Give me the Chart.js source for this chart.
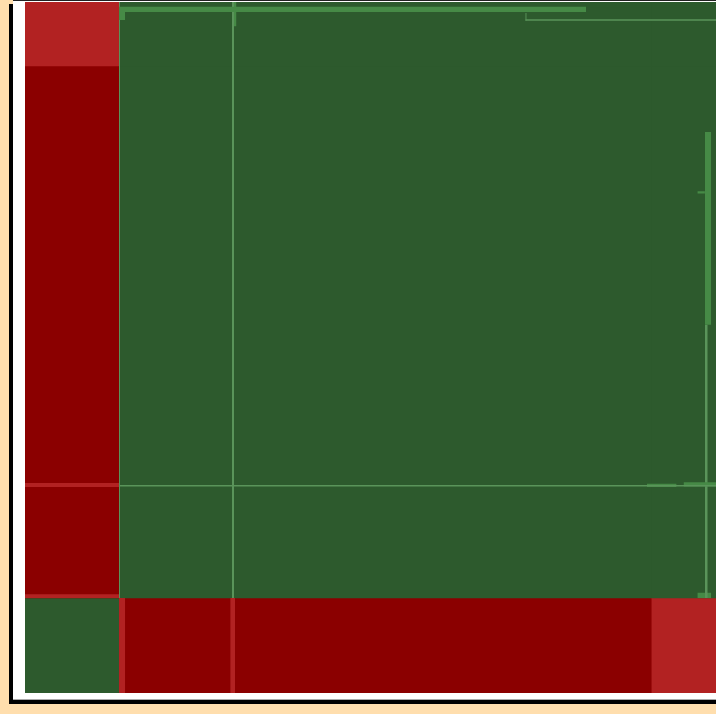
<!DOCTYPE html>
<html>
<head>
<meta charset="utf-8">
<script src="https://cdn.jsdelivr.net/npm/chart.js@4.4.1/dist/chart.umd.min.js"></script>
<style>
  html, body { margin: 0; padding: 0; background: #FFDEAD; overflow: hidden; }
  #frame {
    position: absolute; left: 13px; top: 0; width: 720px; height: 698px;
    background: #fff; border-top: 1px solid #222; border-bottom: 1px solid #aaa;
    box-shadow: -4px 4px 0 #000;
  }
  #holder { position: absolute; left: 25px; top: 2px; width: 691px; height: 691px; }
</style>
</head>
<body>
<div id="frame"></div>
<div id="holder"><canvas id="matrix"></canvas></div>
<script>
// category shares (percent of the whole), same order on both axes
const categories = ["A", "B", "C", "D"];
const shares = [13.6, 16.4, 60.6, 9.4];

// cell status, rows from the bottom: 1 = match, -1 = strong mismatch, -0.5 = mismatch
const status = [
  [ 1, -1, -1, -0.5],
  [-1,  1,  1,  1],
  [-1,  1,  1,  1],
  [-0.5, 1, 1,  1]
];
const statusColors = { "1": "#2d5a2d", "-1": "#8b0000", "-0.5": "#b22222" };

// thin residual cells [x0, x1, y0, y1, kind] in percent units
const slivers = [
  [0, 13.6, 29.8, 30.4, "red"],
  [0, 13.6, 13.75, 14.3, "red"],
  [13.6, 14.5, 0, 13.75, "red"],
  [29.7, 30.4, 0, 13.75, "red"],
  [13.6, 81.2, 98.55, 99.3, "green"],
  [13.6, 14.5, 97.4, 98.55, "green"],
  [29.95, 30.25, 13.75, 100, "line"],
  [29.95, 30.6, 96.5, 100, "green"],
  [13.6, 100, 29.9, 30.1, "line"],
  [90.0, 94.3, 29.8, 30.3, "green"],
  [95.3, 100, 29.9, 30.5, "green"],
  [98.4, 99.3, 53.3, 81.2, "green"],
  [98.4, 98.8, 13.75, 53.3, "line"],
  [97.3, 98.4, 72.3, 72.6, "green"],
  [97.3, 99.3, 13.75, 14.5, "green"],
  [72.4, 100, 97.3, 97.5, "line"],
  [72.4, 72.6, 97.3, 98.4, "line"],
  [13.6, 13.75, 13.75, 100, "line"]
];
const sliverColors = { red: "#b22222", green: "#468a46", line: "#5a945a" };

function edges(arr) {
  const out = [0];
  arr.forEach(v => out.push(out[out.length - 1] + v));
  return out;
}

function cellDataset(x0, x1, y0, y1, color, order) {
  return {
    data: [{ x: x0, y: y1 }, { x: x1, y: y1 }],
    showLine: true,
    fill: { value: y0 },
    backgroundColor: color,
    borderWidth: 0,
    pointRadius: 0,
    order: order
  };
}

const xe = edges(shares);
const ye = edges(shares);
const pad = 0.1; // overlap so neighbouring cells leave no seam
const datasets = [];
status.forEach((row, r) => {
  row.forEach((s, c) => {
    datasets.push(cellDataset(xe[c] - pad, xe[c + 1] + pad, ye[r] - pad, ye[r + 1] + pad,
      statusColors[String(s)], 2 + r * 4 + c));
  });
});
slivers.forEach(([x0, x1, y0, y1, kind]) => {
  datasets.push(cellDataset(x0, x1, y0, y1, sliverColors[kind], 1));
});

new Chart(document.getElementById("matrix"), {
  type: "scatter",
  data: { datasets: datasets },
  options: {
    responsive: true,
    maintainAspectRatio: false,
    animation: false,
    layout: { padding: 0 },
    plugins: { legend: { display: false }, tooltip: { enabled: false } },
    scales: {
      x: { type: "linear", min: 0, max: 100, display: false },
      y: { type: "linear", min: 0, max: 100, display: false }
    }
  }
});
</script>
</body>
</html>
